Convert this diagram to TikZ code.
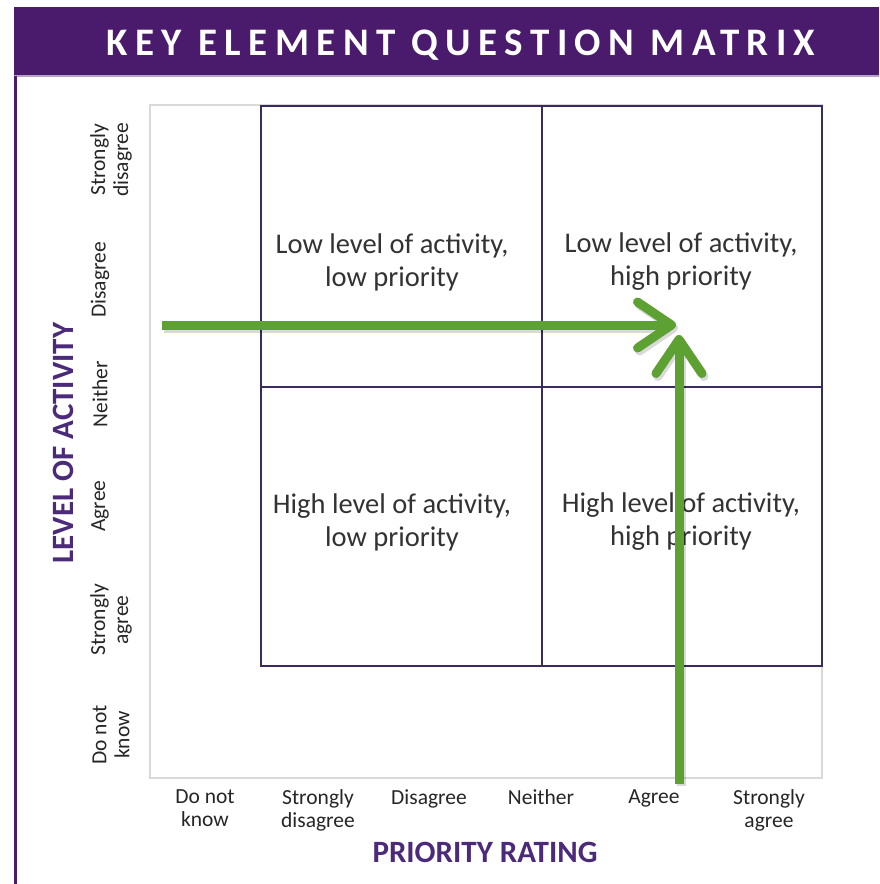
\documentclass[tikz,border=0pt]{standalone}
\usepackage{fontspec}
\setmainfont{Carlito}
\usetikzlibrary{arrows.meta}
\definecolor{bannerc}{HTML}{4A1A6C}
\definecolor{boxc}{HTML}{3A2A5E}
\definecolor{axisc}{HTML}{4B2A7A}
\definecolor{greenc}{HTML}{5DA132}
\tikzset{
  quad/.style={align=center, font=\fontsize{28.5}{33}\selectfont, text=black!80, inner sep=0pt},
  ylab/.style={align=center, rotate=90, font=\fontsize{21.5}{23}\selectfont, text=black!85, inner sep=0pt},
  xlab/.style={align=center, anchor=north, font=\fontsize{21.5}{23}\selectfont, text=black!85, inner sep=0pt},
  axistitle/.style={font=\fontsize{31}{33}\selectfont\bfseries, text=axisc, inner sep=0pt},
  greenarrow/.style={draw=greenc, line width=9pt, -{Straight Barb[length=34pt, width=46pt, line width=9pt, line cap=round, line join=round]}},
  shadowarrow/.style={draw=black, opacity=0.15, line width=9pt, -{Straight Barb[length=34pt, width=46pt, line width=9pt, line cap=round, line join=round]}}
}
\begin{document}
\begin{tikzpicture}[x=1pt,y=-1pt]
\useasboundingbox (0,0) rectangle (879,884);
\fill[white] (0,0) rectangle (879,884);
% banner
\fill[bannerc] (14,7) rectangle (879,76);
\draw[bannerc!40, line width=1.5pt] (14,76) -- (879,76);
\draw[bannerc, line width=3pt] (15,76) -- (15,884);
\node[text=white, font=\fontsize{39}{42}\selectfont\bfseries, inner sep=0pt] (title) at (461,45)
  {\addfontfeatures{LetterSpace=19}KEY ELEMENT QUESTION MATRIX};
% frames
\draw[black!15, line width=1.5pt] (150,105) rectangle (822,778);
\draw[boxc, line width=2pt] (261,106) rectangle (822,666);
\draw[boxc, line width=2pt] (542,106) -- (542,666);
\draw[boxc, line width=2pt] (261,387) -- (822,387);
% quadrant texts
\node[quad] (q1) at (392,262) {Low level of activity,\\low priority};
\node[quad] (q2) at (681,262) {Low level of activity,\\high priority};
\node[quad] (q3) at (392,522) {High level of activity,\\low priority};
\node[quad] (q4) at (681,522) {High level of activity,\\high priority};
% y labels
\node[ylab] (y1) at (111,160) {Strongly\\disagree};
\node[ylab] (y2) at (100,280) {Disagree};
\node[ylab] (y3) at (100,394) {Neither};
\node[ylab] (y4) at (100,506) {Agree};
\node[ylab] (y5) at (111,620) {Strongly\\agree};
\node[ylab] (y6) at (111,735) {Do not\\know};
\node[axistitle, rotate=90] (ytitle) at (63,443) {LEVEL OF ACTIVITY};
% x labels
\node[xlab] (x1) at (205,789) {Do not\\know};
\node[xlab] (x2) at (318,789) {Strongly\\disagree};
\node[xlab] (x3) at (429,789) {Disagree};
\node[xlab] (x4) at (541,789) {Neither};
\node[xlab] (x5) at (654,789) {Agree};
\node[xlab] (x6) at (769,789) {Strongly\\agree};
\node[axistitle] (xtitle) at (485,852) {PRIORITY RATING};
% arrows
\coordinate (hs) at (162,325);
\coordinate (ht) at (676,325);
\coordinate (vs) at (679,784);
\coordinate (vt) at (679,335);
\coordinate (hs2) at (164,328);
\coordinate (ht2) at (678,328);
\coordinate (vs2) at (681,786);
\coordinate (vt2) at (681,338);
\draw[shadowarrow] (hs2) -- (ht2);
\draw[shadowarrow] (vs2) -- (vt2);
\draw[greenarrow] (hs) -- (ht);
\draw[greenarrow] (vs) -- (vt);
\end{tikzpicture}
\end{document}
